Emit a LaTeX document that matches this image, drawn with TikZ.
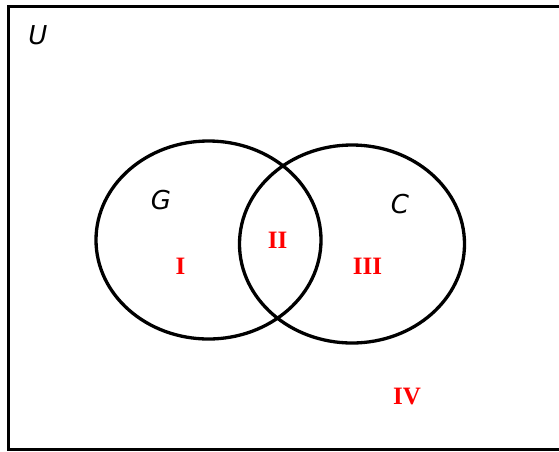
\documentclass[tikz,border=0pt]{standalone}
\usepackage{fontspec}
\setsansfont{DejaVu Sans}
\newfontfamily\numfont{Liberation Serif}
\usepackage{tikz}
\usetikzlibrary{shapes.geometric}
\usepackage{xcolor}

\tikzset{
  setlabel/.style={inner sep=0pt,font=\fontsize{26}{26}\selectfont\sffamily\itshape},
  regionlabel/.style={inner sep=0pt,text=red,font=\fontsize{25}{25}\selectfont\numfont\bfseries},
  setshape/.style={draw,ellipse,line width=3.3pt,minimum width=225pt,minimum height=198pt,inner sep=0pt}
}

\begin{document}
\begin{tikzpicture}[x=1pt,y=-1pt]
\useasboundingbox (0,0) rectangle (559,451);
\clip (0,0) rectangle (559,451);
\fill[white] (0,0) rectangle (559,451);
% universe
\draw[line width=3.3pt] (8.5,6.5) rectangle (575,449.5);
\node[setlabel] (u) at (38,35) {U};
% the two sets
\node[setshape] (g) at (208.5,240) {};
\node[setshape] (c) at (352,244) {};
\node[setlabel] (gl) at (161,200) {G};
\node[setlabel] (cl) at (400,204) {C};
% regions
\node[regionlabel] (r1) at (180.5,266) {I};
\node[regionlabel] (r2) at (277.5,240) {II};
\node[regionlabel] (r3) at (367.5,266.5) {III};
\node[regionlabel] (r4) at (407,396.5) {IV};
\end{tikzpicture}
\end{document}
